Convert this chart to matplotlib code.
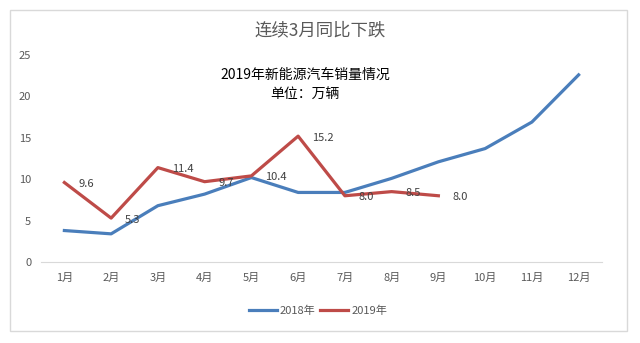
import matplotlib.pyplot as plt
from matplotlib.patches import Rectangle

plt.rcParams['font.family'] = ['Noto Sans CJK SC', 'DejaVu Sans']

months = ['1月', '2月', '3月', '4月', '5月', '6月', '7月', '8月', '9月', '10月', '11月', '12月']
sales_2018 = [3.8, 3.4, 6.8, 8.2, 10.2, 8.4, 8.4, 10.1, 12.1, 13.7, 16.9, 22.6]
sales_2019 = [9.6, 5.3, 11.4, 9.7, 10.4, 15.2, 8.0, 8.5, 8.0]
y_ticks = [0, 5, 10, 15, 20, 25]

blue = '#4A7EBB'
red = '#BE4B48'
grey = '#595959'

fig = plt.figure(figsize=(6.4, 3.43), dpi=100)
# chart border
fig.patches.append(Rectangle((10 / 640, 1 - 331 / 343), 617 / 640, 321 / 343,
                             transform=fig.transFigure, fill=False,
                             edgecolor='#d9d9d9', linewidth=1.0))

ax = fig.add_axes([41 / 640, 1 - 262 / 343, 561 / 640, 207 / 343])
x18 = list(range(len(sales_2018)))
x19 = list(range(len(sales_2019)))
ax.plot(x18, sales_2018, color=blue, linewidth=2.3, label='2018年', zorder=3)
ax.plot(x19, sales_2019, color=red, linewidth=2.3, label='2019年', zorder=4)

for xi, v in zip(x19, sales_2019):
    ax.annotate(f'{v:.1f}', (xi, v), xytext=(10, -1), textcoords='offset points',
                ha='left', va='center', fontsize=8, color='#404040', zorder=5)

ax.set_xlim(-0.5, len(months) - 0.5)
ax.set_ylim(0, 25)
ax.set_xticks(range(len(months)))
ax.set_xticklabels(months, fontsize=8, color=grey)
ax.set_yticks(y_ticks)
ax.set_yticklabels([str(t) for t in y_ticks], fontsize=8, color=grey)
ax.tick_params(length=0)
ax.tick_params(axis='x', pad=8)
ax.tick_params(axis='y', pad=7)
for s in ['top', 'right', 'left']:
    ax.spines[s].set_visible(False)
ax.spines['bottom'].set_color('#d9d9d9')
ax.set_facecolor('none')

fig.text(0.5, 1 - 30 / 343, '连续3月同比下跌', ha='center', va='center',
         fontsize=12.5, color=grey)
fig.text(305 / 640, 1 - 75 / 343, '2019年新能源汽车销量情况', ha='center', va='center',
         fontsize=10, color='black')
fig.text(305 / 640, 1 - 95 / 343, '单位：万辆', ha='center', va='center',
         fontsize=10, color='black')

fig.legend(loc='center', bbox_to_anchor=(318 / 640, 1 - 311 / 343), ncol=2,
           frameon=False, fontsize=8, handlelength=2.5, handletextpad=0.3,
           columnspacing=0.4, labelcolor=grey)

fig.savefig('out.png', dpi=100)
